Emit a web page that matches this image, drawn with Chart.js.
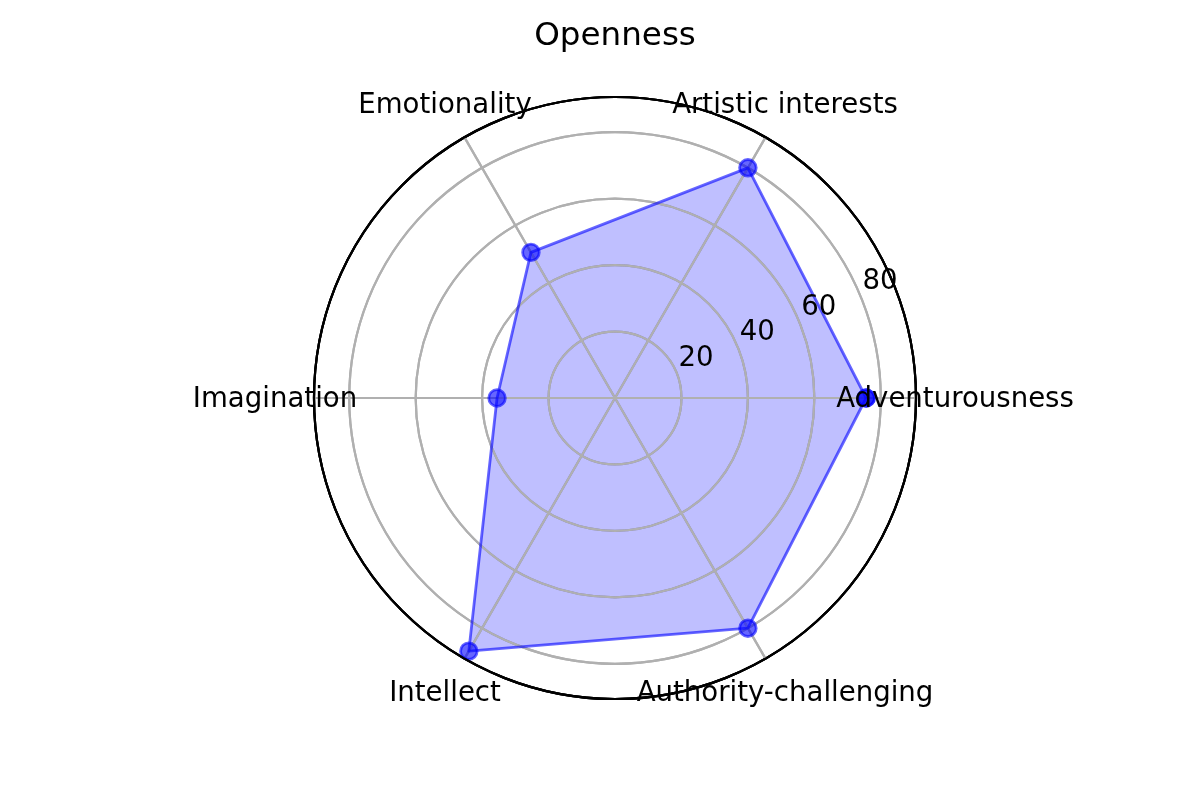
<!DOCTYPE html>
<html>
<head>
<meta charset="utf-8">
<script src="https://cdn.jsdelivr.net/npm/chart.js@4.4.1/dist/chart.umd.min.js"></script>
<style>
  html, body { margin: 0; padding: 0; background: #fff; }
  canvas { display: block; }
</style>
</head>
<body>
<canvas id="c" width="1200" height="800"></canvas>
<script>
// ---- data (matplotlib order: counter-clockwise from the right) ----
const categories = ['Adventurousness', 'Artistic interests', 'Emotionality', 'Imagination', 'Intellect', 'Authority-challenging'];
const scores = [75.6, 80, 50.6, 35.5, 88, 80];
const rTicks = [20, 40, 60, 80];
const rMax = 90.6;
const chartTitle = 'Openness';

// Chart.js radar goes clockwise, so reverse the order after the first item
const toClockwise = arr => [arr[0], ...arr.slice(1).reverse()];
const cwLabels = toClockwise(categories);
const cwScores = toClockwise(scores);
const closingPoint = cwScores.map((v, i) => (i === 0 ? v : null));

const FONT = 'DejaVu Sans';
const LABEL_SIZE = 27.6;
const GRID_GRAY = '#b0b0b0';
const GRID_W = 2.2;

Chart.defaults.font.family = FONT;
Chart.defaults.color = '#000';

const overlay = {
  id: 'overlay',
  afterDatasetDraw(chart, args) {
    // matplotlib draws grid above the filled patch but below the line/markers
    if (args.index === 0) chart.scales.r.drawGrid();
  },
  afterDatasetsDraw(chart) {
    const s = chart.scales.r;
    const ctx = chart.ctx;
    ctx.save();
    // outer spine on top
    ctx.beginPath();
    ctx.strokeStyle = '#000';
    ctx.lineWidth = GRID_W;
    ctx.arc(s.xCenter, s.yCenter, s.getDistanceFromCenterForValue(rMax), 0, Math.PI * 2);
    ctx.stroke();

    ctx.fillStyle = '#000';
    ctx.font = LABEL_SIZE + 'px "' + FONT + '"';
    // angular labels, centred just outside the circle
    ctx.textAlign = 'center';
    ctx.textBaseline = 'alphabetic';
    const labelDist = s.getDistanceFromCenterForValue(rMax) + 39;
    cwLabels.forEach((lab, i) => {
      const p = s.getPointPosition(i, labelDist);
      ctx.fillText(lab, p.x, p.y + 9);
    });
    // radial tick labels along 22.5 degrees
    const a = 22.5 * Math.PI / 180;
    ctx.textAlign = 'left';
    rTicks.forEach(v => {
      const d = s.getDistanceFromCenterForValue(v);
      const x = s.xCenter + d * Math.cos(a);
      const y = s.yCenter - d * Math.sin(a);
      ctx.fillText(String(v), x + 2, y - 7);
    });
    ctx.restore();
  }
};

const lineBlue = 'rgba(0,0,255,0.6)';

new Chart(document.getElementById('c'), {
  type: 'radar',
  data: {
    labels: cwLabels,
    datasets: [
      {
        data: cwScores,
        order: 3,
        fill: 'origin',
        backgroundColor: 'rgba(0,0,255,0.25)',
        borderColor: 'transparent',
        borderWidth: 0,
        pointRadius: 0
      },
      {
        data: cwScores,
        order: 2,
        fill: false,
        borderColor: lineBlue,
        borderWidth: 2.8,
        borderJoinStyle: 'round',
        pointRadius: 8.3,
        pointBackgroundColor: lineBlue,
        pointBorderColor: lineBlue,
        pointBorderWidth: 2.8
      },
      {
        data: closingPoint,
        order: 1,
        fill: false,
        showLine: false,
        borderColor: 'transparent',
        pointRadius: 8.3,
        pointBackgroundColor: lineBlue,
        pointBorderColor: lineBlue,
        pointBorderWidth: 2.8
      }
    ]
  },
  options: {
    responsive: false,
    animation: false,
    devicePixelRatio: 1,
    layout: { padding: { left: 313, right: 283, top: 0, bottom: 100 } },
    plugins: {
      legend: { display: false },
      tooltip: { enabled: false },
      title: {
        display: true,
        text: chartTitle,
        color: '#000',
        font: { family: FONT, size: 32.6, weight: 'normal', lineHeight: 1.2 },
        padding: { top: 16.6, bottom: 40.3 }
      }
    },
    scales: {
      r: {
        min: 0,
        max: rMax,
        startAngle: 90,
        afterBuildTicks: (scale) => {
          scale.ticks = [0, ...rTicks, rMax].map(v => ({ value: v }));
        },
        ticks: { display: false },
        pointLabels: { display: false },
        grid: {
          circular: true,
          lineWidth: GRID_W,
          color: (c) => (c.tick && c.tick.value === rMax ? '#000' : GRID_GRAY)
        },
        angleLines: { color: GRID_GRAY, lineWidth: GRID_W }
      }
    }
  },
  plugins: [overlay]
});
</script>
</body>
</html>
